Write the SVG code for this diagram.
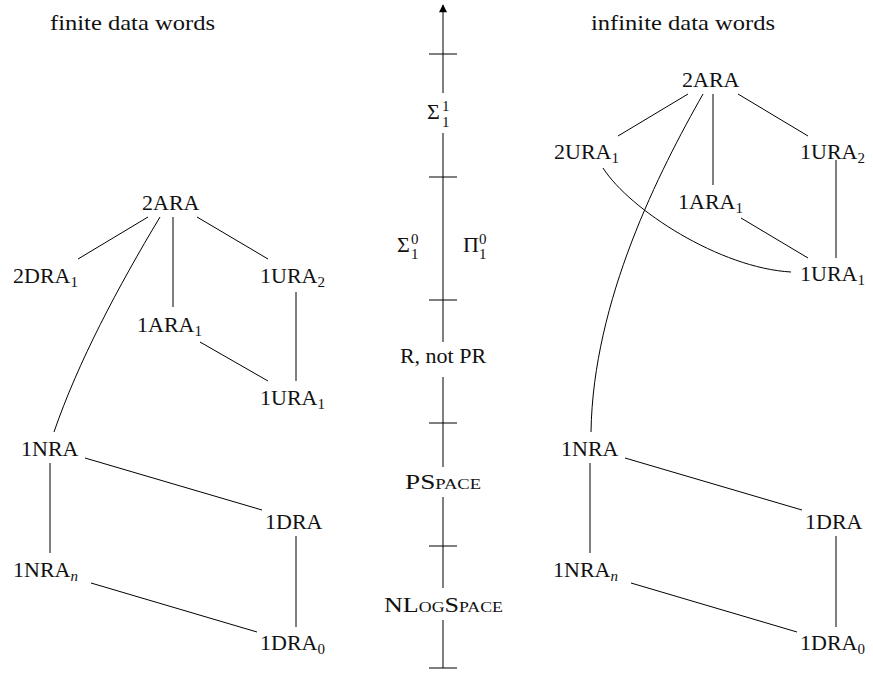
<svg xmlns="http://www.w3.org/2000/svg" width="873" height="673" viewBox="0 0 873 673" font-family="'Liberation Serif', 'DejaVu Serif', serif">
<defs>
<marker id="arr" viewBox="0 0 10 10" refX="9" refY="5" markerWidth="11" markerHeight="8" markerUnits="userSpaceOnUse" orient="auto"><path class="ah" d="M0,0 L10,5 L0,10 Z"/></marker>
</defs>
<style>
text{font-family:'Liberation Serif','DejaVu Serif',serif;font-size:22px;fill:#111}
.sub{font-size:15px}
.sc{font-variant:small-caps}
line,path{stroke:#000;stroke-width:1;fill:none}
path.ah{fill:#000;stroke:none}
</style>
<rect width="873" height="673" fill="#fff"/>
<g id="titles">
<text x="50" y="30" textLength="165" lengthAdjust="spacingAndGlyphs">finite data words</text>
<text x="591" y="30" textLength="184" lengthAdjust="spacingAndGlyphs">infinite data words</text>
</g>
<g id="connectors">
<line x1="148" y1="217" x2="78" y2="259"/>
<line x1="197" y1="217" x2="268" y2="259"/>
<line x1="173" y1="217" x2="173" y2="307"/>
<path d="M160,217 C118,287 78,362 54,432"/>
<line x1="296" y1="292" x2="296" y2="381"/>
<line x1="200" y1="342" x2="268" y2="381"/>
<line x1="85" y1="458" x2="262" y2="510"/>
<line x1="50" y1="463" x2="50" y2="553"/>
<line x1="91" y1="583" x2="257" y2="632"/>
<line x1="296" y1="536" x2="296" y2="627"/>
<line x1="688" y1="94" x2="618" y2="136"/>
<line x1="738" y1="94" x2="808" y2="136"/>
<line x1="713" y1="94" x2="713" y2="185"/>
<line x1="741" y1="218" x2="808" y2="258"/>
<line x1="836" y1="160" x2="836" y2="258"/>
<path d="M603,168 C630,210 720,268 791,272"/>
<path d="M703,94 C660,170 593,300 591,432"/>
<line x1="625" y1="458" x2="802" y2="510"/>
<line x1="590" y1="463" x2="590" y2="553"/>
<line x1="631" y1="583" x2="797" y2="632"/>
<line x1="836" y1="536" x2="836" y2="627"/>
</g>
<g id="axis">
<line x1="443" y1="93" x2="443" y2="5" marker-end="url(#arr)"/>
<line x1="443" y1="133" x2="443" y2="342"/>
<line x1="443" y1="377" x2="443" y2="467"/>
<line x1="443" y1="497" x2="443" y2="588"/>
<line x1="443" y1="620" x2="443" y2="668"/>
<line x1="429" y1="54" x2="457" y2="54"/>
<line x1="429" y1="177" x2="457" y2="177"/>
<line x1="429" y1="300" x2="457" y2="300"/>
<line x1="429" y1="423" x2="457" y2="423"/>
<line x1="429" y1="546" x2="457" y2="546"/>
<line x1="429" y1="668" x2="457" y2="668"/>
<text x="427" y="119">Σ<tspan class="sub" x="442" y="111">1</tspan><tspan class="sub" x="442" y="127">1</tspan></text>
<text x="397" y="252">Σ<tspan class="sub" x="411" y="244">0</tspan><tspan class="sub" x="411" y="259">1</tspan></text>
<text x="463" y="252">Π<tspan class="sub" x="479" y="244">0</tspan><tspan class="sub" x="479" y="259">1</tspan></text>
<text x="443" y="363" text-anchor="middle">R, not PR</text>
<text x="405" y="489" class="sc" textLength="76" lengthAdjust="spacingAndGlyphs">PSpace</text>
<text x="384" y="612" class="sc" textLength="119" lengthAdjust="spacingAndGlyphs">NLogSpace</text>
</g>
<g id="f-2ARA"><text x="142" y="210">2ARA</text></g>
<g id="f-2DRA1"><text x="13" y="283">2DRA<tspan class="sub" dy="4">1</tspan></text></g>
<g id="f-1URA2"><text x="260" y="283">1URA<tspan class="sub" dy="4">2</tspan></text></g>
<g id="f-1ARA1"><text x="137" y="332">1ARA<tspan class="sub" dy="4">1</tspan></text></g>
<g id="f-1URA1"><text x="260" y="405">1URA<tspan class="sub" dy="4">1</tspan></text></g>
<g id="f-1NRA"><text x="21" y="456">1NRA</text></g>
<g id="f-1DRA"><text x="265" y="529">1DRA</text></g>
<g id="f-1NRAn"><text x="13" y="577">1NRA<tspan class="sub" dy="4" font-style="italic">n</tspan></text></g>
<g id="f-1DRA0"><text x="260" y="650">1DRA<tspan class="sub" dy="4">0</tspan></text></g>
<g id="i-2ARA"><text x="682" y="87">2ARA</text></g>
<g id="i-2URA1"><text x="554" y="159">2URA<tspan class="sub" dy="4">1</tspan></text></g>
<g id="i-1URA2"><text x="800" y="159">1URA<tspan class="sub" dy="4">2</tspan></text></g>
<g id="i-1ARA1"><text x="678" y="209">1ARA<tspan class="sub" dy="4">1</tspan></text></g>
<g id="i-1URA1"><text x="800" y="281">1URA<tspan class="sub" dy="4">1</tspan></text></g>
<g id="i-1NRA"><text x="561" y="456">1NRA</text></g>
<g id="i-1DRA"><text x="805" y="529">1DRA</text></g>
<g id="i-1NRAn"><text x="553" y="577">1NRA<tspan class="sub" dy="4" font-style="italic">n</tspan></text></g>
<g id="i-1DRA0"><text x="800" y="650">1DRA<tspan class="sub" dy="4">0</tspan></text></g>
</svg>
